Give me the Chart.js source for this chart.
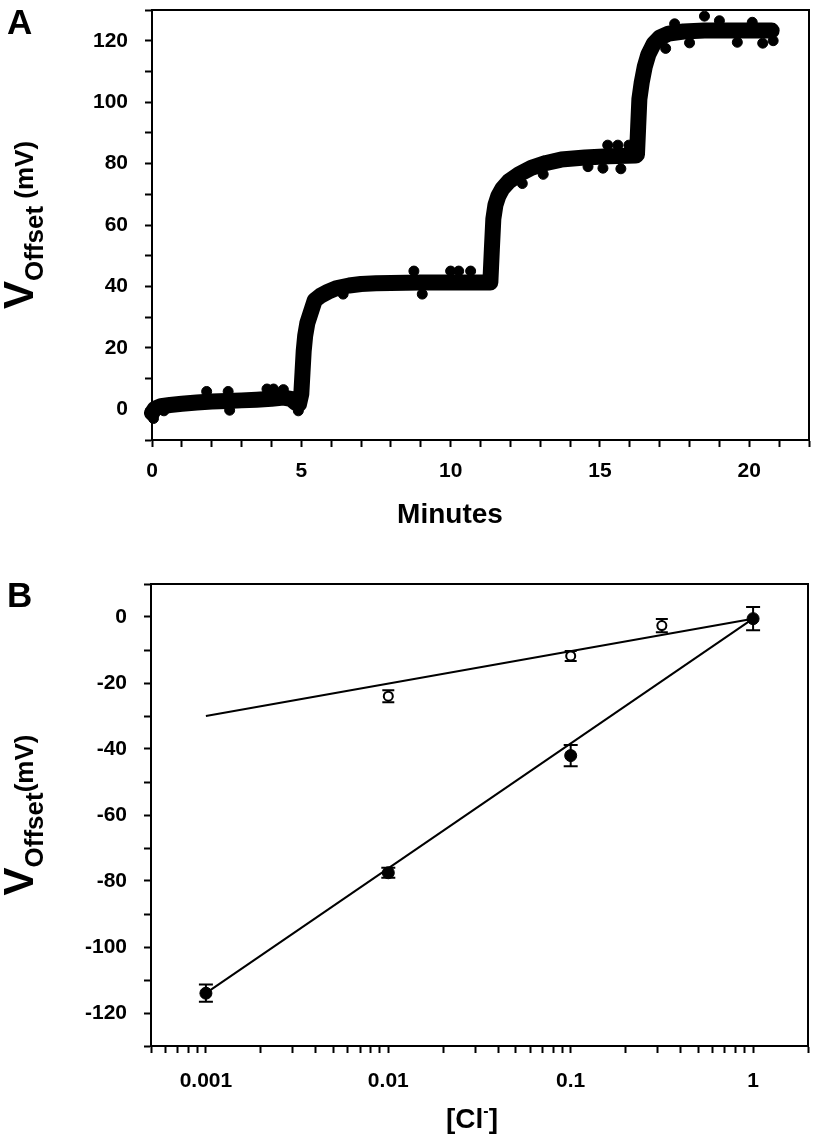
<!DOCTYPE html>
<html>
<head>
<meta charset="utf-8">
<script src="https://cdn.jsdelivr.net/npm/chart.js@4.4.1/dist/chart.umd.min.js"></script>
<style>
body { margin: 0; background: #fff; }
#wrapA { position: absolute; left: 0; top: 0; width: 815px; height: 560px; }
#wrapB { position: absolute; left: 0; top: 560px; width: 815px; height: 580px; }
</style>
</head>
<body>
<div id="wrapA"><canvas id="chartA" width="815" height="560"></canvas></div>
<div id="wrapB"><canvas id="chartB" width="815" height="580"></canvas></div>
<script>
// A: offset voltage trace
var traceMin = [0, 0.1, 0.3, 0.6, 1.0, 1.5, 2.0, 2.5, 3.0, 3.5, 4.0, 4.4, 4.65, 4.8, 4.92,
    5.0, 5.04, 5.08, 5.13, 5.2, 5.3, 5.45, 5.65, 5.9, 6.2, 6.6, 7.0, 7.5, 8.0, 9.0, 10.0, 11.0, 11.33,
    11.38, 11.43, 11.5, 11.6, 11.73, 11.95, 12.3, 12.7, 13.2, 13.7, 14.5, 15.3, 16.2,
    16.24, 16.28, 16.32, 16.4, 16.5, 16.62, 16.8, 17.0, 17.3, 17.8, 18.5, 19.5, 20.75];
var traceMv = [-1.2, 0.2, 1.0, 1.4, 1.8, 2.2, 2.5, 2.7, 2.9, 3.1, 3.4, 3.8, 3.4, 2.2, 1.6,
    5, 12, 19, 24, 28, 31, 35.5, 37, 38.3, 39.5, 40.3, 40.8, 41.0, 41.1, 41.3, 41.3, 41.3, 41.3,
    52, 62, 66.5, 69.5, 71.8, 74.2, 76.6, 78.6, 80.2, 81.3, 82.0, 82.4, 82.6,
    83, 92, 101, 106.5, 111.5, 115.5, 119, 121, 122.3, 123, 123.3, 123.3, 123.3];
// dots sticking out of the band
var noiseMin = [0.05, 0.4, 1.83, 2.55, 2.6, 3.85, 4.07, 4.4, 4.9,
    6.4, 8.77, 9.05, 10.0, 10.27, 10.67,
    12.4, 13.1, 14.6, 15.1, 15.26, 15.6, 15.7, 15.97,
    17.2, 17.5, 18.0, 18.5, 19.0, 19.6, 20.1, 20.45, 20.8];
var noiseMv = [-3, -0.5, 5.8, 5.8, -0.3, 6.6, 6.6, 6.4, -0.5,
    37.5, 45, 37.5, 45, 45, 45,
    73.5, 76.5, 79, 78.5, 86, 86, 78.3, 86,
    117.5, 125.5, 119.3, 128, 126.5, 119.5, 126, 119.2, 120];
var xLabelsA = [0, 5, 10, 15, 20];
var yLabelsA = [0, 20, 40, 60, 80, 100, 120];

// B: offset vs [Cl-]
var clConc = [0.001, 0.01, 0.1, 1];
var vFilled = [-114, -77.5, -42, -0.5];
var errFilled = [2.6, 1.5, 3.2, 3.5];
var clConcOpen = [0.01, 0.1, 0.316];
var vOpen = [-24, -11.8, -2.6];
var errOpen = [1.8, 1.5, 2.0];
var fitConc = [0.001, 1];
var fitFilled = [-114, -0.5];
var fitOpen = [-30, -0.5];
var xLabelsB = ['0.001', '0.01', '0.1', '1'];
var yLabelsB = [-120, -100, -80, -60, -40, -20, 0];

var FAM = '"Liberation Sans", Arial, sans-serif';
var pts = function (xs, ys) { return xs.map(function (x, i) { return { x: x, y: ys[i] }; }); };

// frame, panel letter, axis titles
var decorate = {
    id: 'decorate',
    afterDraw: function (chart, args, o) {
        var ctx = chart.ctx, a = chart.chartArea;
        ctx.save();
        ctx.strokeStyle = '#000';
        ctx.lineWidth = 2;
        ctx.strokeRect(a.left, a.top, a.right - a.left, a.bottom - a.top);
        ctx.fillStyle = '#000';
        ctx.textBaseline = 'alphabetic';
        ctx.font = 'bold 35px ' + FAM;
        ctx.fillText(o.letter, 7, o.letterY);

        // y title: V_Offset (mV), rotated
        var parts = [['V', 42, 0], ['Offset', 26, 10], [o.mv, 26, 0]];
        var total = 0;
        parts.forEach(function (p) { ctx.font = 'bold ' + p[1] + 'px ' + FAM; p.push(ctx.measureText(p[0]).width); total += p[3]; });
        ctx.save();
        ctx.translate(33, (a.top + a.bottom) / 2);
        ctx.rotate(-Math.PI / 2);
        var u = -total / 2;
        parts.forEach(function (p) { ctx.font = 'bold ' + p[1] + 'px ' + FAM; ctx.fillText(p[0], u, p[2]); u += p[3]; });
        ctx.restore();

        // x title
        var xp = o.xTitle, w = 0;
        xp.forEach(function (p) { ctx.font = 'bold ' + p[1] + 'px ' + FAM; p.push(ctx.measureText(p[0]).width); w += p[3]; });
        var x = o.xTitleX - w / 2;
        xp.forEach(function (p) { ctx.font = 'bold ' + p[1] + 'px ' + FAM; ctx.fillText(p[0], x, o.xTitleY + p[2]); x += p[3]; });
        ctx.restore();
    }
};

// error bars from the B arrays
var errBars = {
    id: 'errBars',
    beforeDatasetsDraw: function (chart) {
        var ctx = chart.ctx, xs = chart.scales.x, ys = chart.scales.y;
        var draw = function (cx, cv, ce, half) {
            cx.forEach(function (c, i) {
                var px = xs.getPixelForValue(c);
                var y1 = ys.getPixelForValue(cv[i] + ce[i]), y2 = ys.getPixelForValue(cv[i] - ce[i]);
                ctx.beginPath();
                ctx.moveTo(px, y1); ctx.lineTo(px, y2);
                ctx.moveTo(px - half, y1); ctx.lineTo(px + half, y1);
                ctx.moveTo(px - half, y2); ctx.lineTo(px + half, y2);
                ctx.stroke();
            });
        };
        ctx.save();
        ctx.strokeStyle = '#000';
        ctx.lineWidth = 2;
        draw(clConc, vFilled, errFilled, 7);
        draw(clConcOpen, vOpen, errOpen, 6);
        ctx.restore();
    }
};

var axisGrid = { drawOnChartArea: false, drawTicks: true, tickLength: 7, tickWidth: 2, tickColor: '#000' };
var axisBorder = { display: true, color: '#000', width: 2 };
var tickFont = { family: FAM, size: 21, weight: 'bold' };
// keep the plot area where the layout padding puts it
var fitX = function (h) { return function (s) { s.height = h; s.paddingLeft = 0; s.paddingRight = 0; }; };
var fitY = function (w) { return function (s) { s.width = w; s.paddingTop = 0; s.paddingBottom = 0; }; };

new Chart(document.getElementById('chartA'), {
    type: 'scatter',
    data: {
        datasets: [{
            data: pts(traceMin, traceMv),
            showLine: true,
            borderColor: '#000',
            borderWidth: 16,
            borderCapStyle: 'round',
            borderJoinStyle: 'round',
            pointRadius: 0,
            clip: 8
        }, {
            data: pts(noiseMin, noiseMv),
            backgroundColor: '#000',
            borderColor: '#000',
            pointRadius: 5,
            clip: 8
        }]
    },
    options: {
        responsive: false,
        animation: false,
        layout: { padding: { top: 10, right: 6, left: 0, bottom: 0 } },
        plugins: {
            legend: { display: false },
            tooltip: { enabled: false },
            decorate: { letter: 'A', letterY: 34, mv: ' (mV)', xTitle: [['Minutes', 28, 0]], xTitleX: 450, xTitleY: 523 }
        },
        scales: {
            x: {
                type: 'linear', min: 0, max: 22,
                grid: axisGrid, border: axisBorder,
                afterFit: fitX(120),
                ticks: {
                    stepSize: 1, autoSkip: false, maxRotation: 0, padding: 12, color: '#000', font: tickFont,
                    callback: function (v) { return xLabelsA.indexOf(v) >= 0 ? String(v) : ''; }
                }
            },
            y: {
                min: -10, max: 130,
                grid: axisGrid, border: axisBorder,
                afterFit: fitY(152),
                ticks: {
                    stepSize: 10, autoSkip: false, padding: 17, color: '#000', font: tickFont,
                    callback: function (v) { return yLabelsA.indexOf(v) >= 0 ? String(v) : ''; }
                }
            }
        }
    },
    plugins: [decorate]
});

// log ticks 0.0005 ... 2
var logTicks = [];
[0.0001, 0.001, 0.01, 0.1, 1].forEach(function (d) {
    for (var k = 1; k <= 9; k++) {
        var v = +(d * k).toPrecision(3);
        if (v >= 0.0005 && v <= 2) logTicks.push(v);
    }
});

new Chart(document.getElementById('chartB'), {
    type: 'scatter',
    data: {
        datasets: [{
            data: pts(fitConc, fitFilled),
            showLine: true, borderColor: '#000', borderWidth: 2, pointRadius: 0, order: 3
        }, {
            data: pts(fitConc, fitOpen),
            showLine: true, borderColor: '#000', borderWidth: 2, pointRadius: 0, order: 3
        }, {
            data: pts(clConc, vFilled),
            backgroundColor: '#000', borderColor: '#000', pointRadius: 6, order: 1
        }, {
            data: pts(clConcOpen, vOpen),
            backgroundColor: '#fff', borderColor: '#000', borderWidth: 2, pointRadius: 4.5, order: 1
        }]
    },
    options: {
        responsive: false,
        animation: false,
        layout: { padding: { top: 24, right: 6, left: 0, bottom: 0 } },
        plugins: {
            legend: { display: false },
            tooltip: { enabled: false },
            decorate: {
                letter: 'B', letterY: 47, mv: '(mV)',
                xTitle: [['[Cl', 28, 0], ['-', 16, -12], [']', 28, 0]], xTitleX: 472, xTitleY: 568
            }
        },
        scales: {
            x: {
                type: 'logarithmic', min: 0.0005, max: 2,
                grid: axisGrid, border: axisBorder,
                afterFit: fitX(94),
                afterBuildTicks: function (s) { s.ticks = logTicks.map(function (v) { return { value: v }; }); },
                ticks: {
                    autoSkip: false, maxRotation: 0, padding: 16, color: '#000', font: tickFont,
                    callback: function (v) { var t = String(v); return xLabelsB.indexOf(t) >= 0 ? t : ''; }
                }
            },
            y: {
                min: -130, max: 10,
                grid: axisGrid, border: axisBorder,
                afterFit: fitY(151),
                ticks: {
                    stepSize: 10, autoSkip: false, padding: 17, color: '#000', font: tickFont,
                    callback: function (v) { return yLabelsB.indexOf(v) >= 0 ? String(v) : ''; }
                }
            }
        }
    },
    plugins: [decorate, errBars]
});
</script>
</body>
</html>
